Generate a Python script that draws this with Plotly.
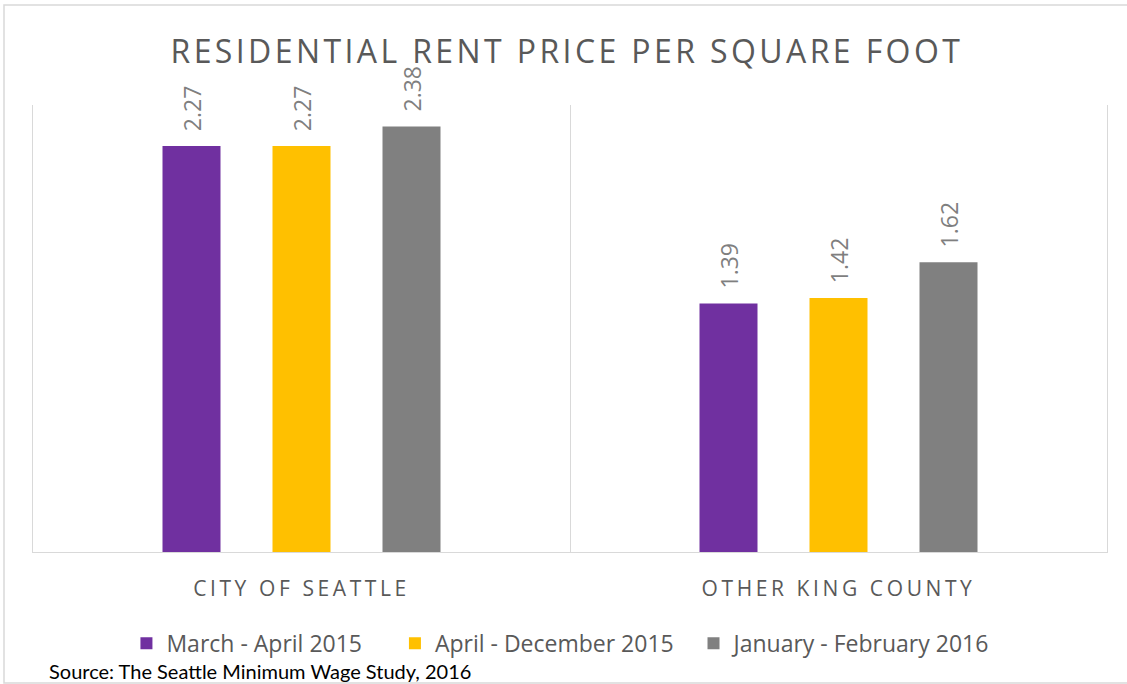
import plotly.graph_objects as go

categories = ["CITY OF SEATTLE", "OTHER KING COUNTY"]
series_names = ["March - April 2015", "April - December 2015", "January - February 2016"]
march_april_2015 = [2.27, 1.39]
april_dec_2015 = [2.27, 1.42]
jan_feb_2016 = [2.38, 1.62]
colors = ["#7030A0", "#FFC000", "#808080"]
legend_ids = ["legend", "legend2", "legend3"]
legend_x = [0.087, 0.337, 0.615]

fig = go.Figure()
for name, vals, col, lid in zip(series_names, [march_april_2015, april_dec_2015, jan_feb_2016], colors, legend_ids):
    fig.add_trace(go.Bar(
        x=categories, y=vals, name=name, marker=dict(color=col, line=dict(width=0)),
        text=["\u00a0\u00a0" + f"{v:.2f}" for v in vals], textposition="outside", textangle=-90,
        textfont=dict(family="Open Sans", size=23, color="#7F7F7F"),
        cliponaxis=False, hoverinfo="skip", legend=lid,
    ))

legend_common = dict(orientation="h", xanchor="left", y=-0.204, yanchor="middle",
                     font=dict(family="Open Sans", size=23, color="#595959"),
                     itemclick=False, itemdoubleclick=False, bgcolor="rgba(0,0,0,0)",
                     itemwidth=30)

fig.update_layout(
    width=1127, height=684,
    margin=dict(l=33, r=20, t=105, b=132),
    paper_bgcolor="white", plot_bgcolor="white",
    barmode="group", bargap=0.3855, bargroupgap=0.4727,
    title=dict(text="RESIDENTIAL RENT PRICE PER SQUARE FOOT",
               font=dict(family="Open Sans", size=32, color="#595959"),
               x=0.503, xanchor="center", y=0.925, yanchor="middle"),
    showlegend=True,
    legend=dict(x=legend_x[0], **legend_common),
    legend2=dict(x=legend_x[1], **legend_common),
    legend3=dict(x=legend_x[2], **legend_common),
    xaxis=dict(type="category", tickson="boundaries", showgrid=True, gridcolor="#D9D9D9", gridwidth=1.3,
               showline=True, linecolor="#D9D9D9", linewidth=1.3, ticks="",
               tickfont=dict(family="Open Sans", size=21, color="#595959"),
               ticklabelstandoff=18),
    yaxis=dict(range=[0, 2.5], showticklabels=False, ticks="", showgrid=False, zeroline=False,
               showline=True, mirror=True, linecolor="#D9D9D9", linewidth=1.3),
    annotations=[dict(text="Source: The Seattle Minimum Wage Study, 2016", xref="paper", yref="paper",
                      x=0.013, y=-0.266, xanchor="left", yanchor="middle", showarrow=False,
                      font=dict(family="Lato", size=20, color="#000000"))],
    shapes=[dict(type="rect", xref="paper", yref="paper", x0=-0.027, x1=1.03, y0=-0.293, y1=1.2237,
                 line=dict(color="#D9D9D9", width=1.5), layer="below")],
)

post = """
document.body.style.margin='0';
var gd=document.getElementById('{plot_id}');
function ls(){
  gd.querySelectorAll('.gtitle').forEach(function(e){e.style.letterSpacing='3.4px';});
  gd.querySelectorAll('.xtick text').forEach(function(e){e.style.letterSpacing='3.6px';});
}
ls(); setTimeout(ls,0); setTimeout(ls,200);
"""

fig.write_html("out.html", post_script=post, config={"displayModeBar": False})
